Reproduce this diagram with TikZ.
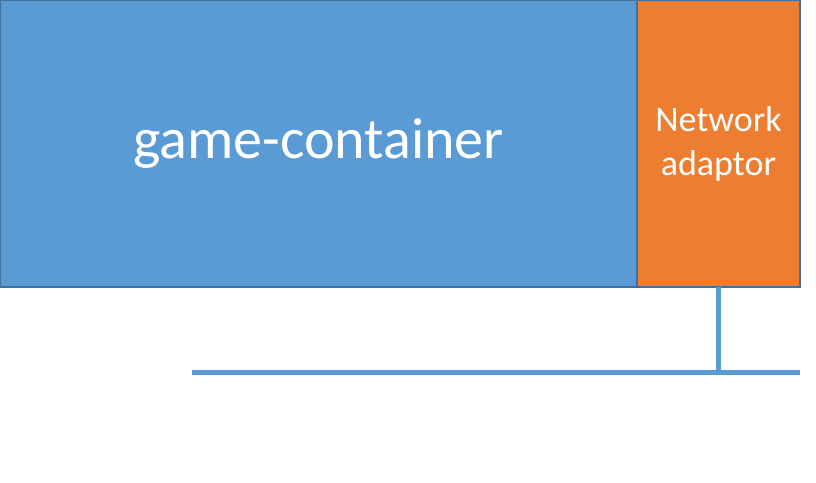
\documentclass[tikz,border=0pt]{standalone}
\usepackage{fontspec}
\setmainfont{Carlito}
\usetikzlibrary{positioning}
\definecolor{boxEdge}{HTML}{41719C}
\definecolor{containerBlue}{HTML}{5B9BD5}
\definecolor{adaptorOrange}{HTML}{ED7D31}
\definecolor{wireBlue}{HTML}{5B9BD5}
\tikzset{
  box/.style={draw=boxEdge,line width=2pt,inner sep=0pt,outer sep=0pt,
    text=white,align=center,minimum height=287pt},
  wire/.style={draw=wireBlue,line width=5pt}
}

\begin{document}
\begin{tikzpicture}[x=1pt,y=-1pt]
  \path[use as bounding box] (0,0) rectangle (816,482);
  \node[box,fill=containerBlue,minimum width=637pt,anchor=north west,
    font=\fontsize{58}{70}\selectfont] (container) at (0,0) {game-container};
  \node[box,fill=adaptorOrange,minimum width=163pt,right=0pt of container,
    font=\fontsize{36}{44}\selectfont] (adaptor) {Network\\adaptor};

  % Bus line below the container
  \coordinate (busLeft) at (192,372.5);
  \coordinate (busRight) at (800,372.5);
  \coordinate (busTap) at (adaptor.south |- busRight);
  \draw[wire] (busLeft) -- (busRight);
  \draw[wire] (adaptor.south) -- (busTap);
\end{tikzpicture}
\end{document}
